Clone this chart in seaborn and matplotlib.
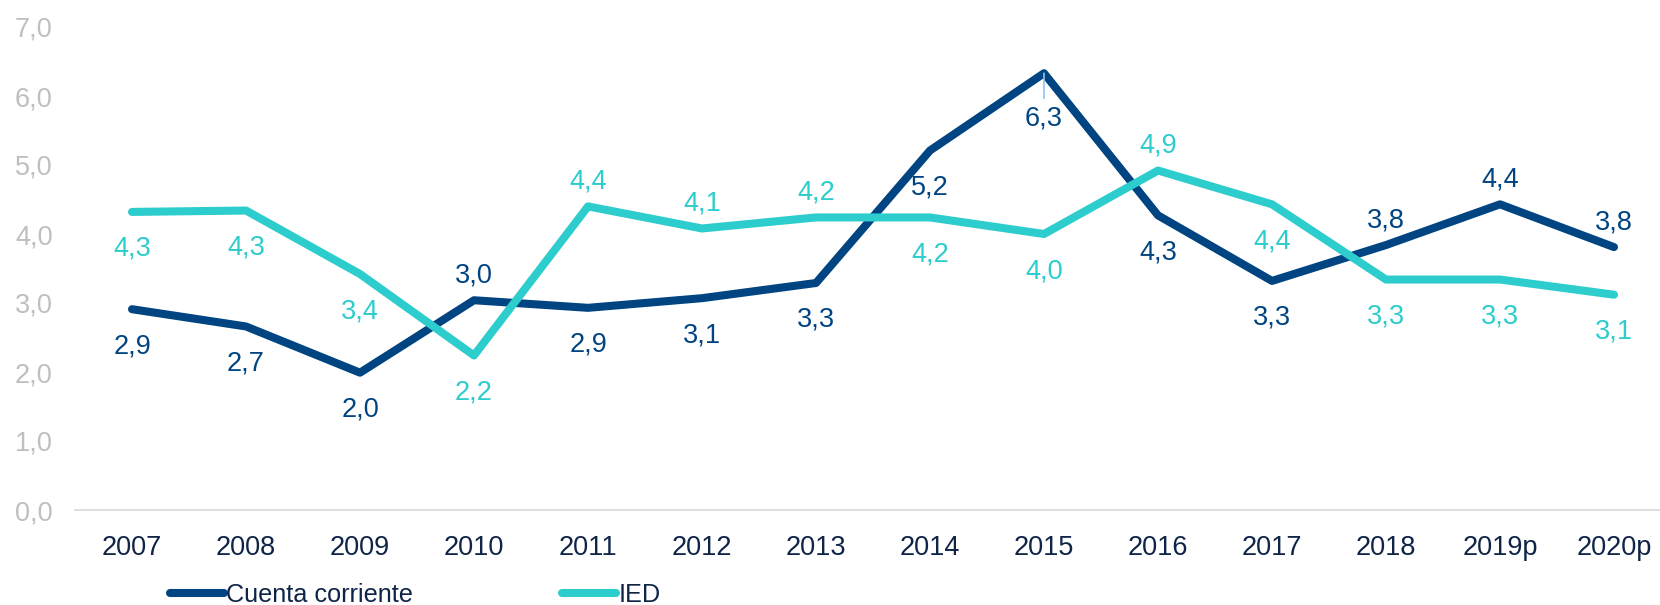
import pandas as pd
import matplotlib
matplotlib.use("Agg")
import matplotlib.pyplot as plt
import seaborn as sns

years = ['2007', '2008', '2009', '2010', '2011', '2012', '2013',
         '2014', '2015', '2016', '2017', '2018', '2019p', '2020p']
cuenta = [2.91, 2.66, 1.99, 3.04, 2.93, 3.07, 3.29,
          5.21, 6.33, 4.27, 3.32, 3.84, 4.43, 3.81]
ied = [4.32, 4.34, 3.42, 2.24, 4.40, 4.08, 4.24,
       4.24, 4.00, 4.92, 4.43, 3.34, 3.34, 3.12]

# label placement: +1 above the point, -1 below
cuenta_pos = [-1, -1, -1, 1, -1, -1, -1, -1, -1, -1, -1, 1, 1, 1]
ied_pos = [-1, -1, -1, -1, 1, 1, 1, -1, -1, 1, -1, -1, -1, -1]

navy = '#004481'
aqua = '#2dcccd'

sns.set_style('white')
plt.rcParams['font.family'] = ['Liberation Sans', 'DejaVu Sans']

df = pd.DataFrame({'year': years, 'Cuenta corriente': cuenta, 'IED': ied})

fig = plt.figure(figsize=(16.6, 6.05), dpi=100)
ax = fig.add_axes([75 / 1660, 1 - 510 / 605, 1596 / 1660, (510 - 27) / 605])

sns.lineplot(data=df, x='year', y='Cuenta corriente', ax=ax, color=navy,
             lw=5.8, label='Cuenta corriente', solid_capstyle='round', sort=False)
sns.lineplot(data=df, x='year', y='IED', ax=ax, color=aqua,
             lw=5.8, label='IED', solid_capstyle='round', sort=False)

peak = cuenta.index(max(cuenta))

def put_labels(vals, where, color, low=None):
    for i, (v, p) in enumerate(zip(vals, where)):
        txt = f'{v:.1f}'.replace('.', ',')
        dy = 25 if p > 0 else -37
        if i == low:
            dy = -45
        ax.annotate(txt, (i, v), xytext=(0, dy), textcoords='offset pixels',
                    ha='center', va='center', fontsize=19.5, color=color)

put_labels(cuenta, cuenta_pos, navy, low=peak)
put_labels(ied, ied_pos, aqua)

# thin leader under the peak, as in the original
ax.annotate('', (peak, cuenta[peak]), xytext=(0, -25), textcoords='offset pixels',
            arrowprops=dict(arrowstyle='-', color='#8fc3f0', lw=1.2,
                            shrinkA=0, shrinkB=0))

ax.set_xlim(-0.5, 13.5)
ax.set_ylim(0, 7)
ax.set_yticks([0, 1, 2, 3, 4, 5, 6, 7])
ax.set_yticklabels([f'{t:.1f}'.replace('.', ',') for t in range(8)])
ax.set_xlabel('')
ax.set_ylabel('')

for s in ['top', 'right', 'left']:
    ax.spines[s].set_visible(False)
ax.spines['bottom'].set_color('#d9d9d9')
ax.spines['bottom'].set_linewidth(1.2)

ax.tick_params(axis='y', length=0, labelsize=19.5, labelcolor='#bfbfbf', pad=16)
ax.tick_params(axis='x', which='major', length=0, labelsize=19.5,
               labelcolor='#0f2447', pad=18)
ax.set_xticks([i + 0.5 for i in range(-1, 14)], minor=True)
ax.tick_params(axis='x', which='minor', length=8, color='#d9d9d9', width=1.2)

ax.get_legend().remove()
handles, labels = ax.get_legend_handles_labels()
leg = fig.legend(handles, labels, loc='center left', ncol=2,
                 bbox_to_anchor=(170 / 1660, 1 - 595 / 605), frameon=False,
                 fontsize=18.2, handlelength=2.13, handletextpad=0.1,
                 columnspacing=5.9, borderaxespad=0, borderpad=0)
for t in leg.get_texts():
    t.set_color('#0f2447')

fig.savefig('out.png', dpi=100)
